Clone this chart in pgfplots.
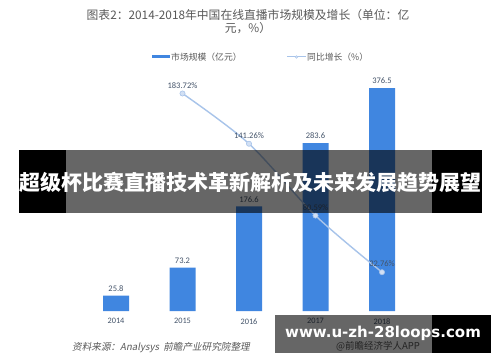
\documentclass[border=0pt]{standalone}
\usepackage{fontspec}
\setmainfont{Carlito}
\newfontfamily\cjk{Noto Sans CJK SC}
\newfontfamily\cjkit[FakeSlant=0.2]{Noto Sans CJK SC}
\newfontfamily\dv{DejaVu Sans}
\usepackage{pgfplots}
\pgfplotsset{compat=1.18}
\pgfkeys{/pgf/number format/assume math mode=true}
\definecolor{barblue}{RGB}{64,134,224}
\definecolor{lineblue}{RGB}{168,196,234}
\definecolor{markfill}{RGB}{210,224,244}
\definecolor{lbl}{RGB}{68,84,106}
\definecolor{ttl}{RGB}{89,89,89}
\begin{document}
\begin{tikzpicture}[x=1pt,y=1pt]
\path[use as bounding box,fill=white] (0,0) rectangle (500,362);
% title
\node[font=\cjk\fontsize{11.8}{14}\selectfont,text=ttl] at (248,347) {图表2：2014-2018年中国在线直播市场规模及增长（单位：亿};
\node[font=\cjk\fontsize{11.8}{14}\selectfont,text=ttl] at (248,334) {元，\%）};
% legend
\fill[barblue] (152,303.5) rectangle (170,306.5);
\node[font=\cjk\fontsize{8.8}{10}\selectfont,text=ttl,anchor=west,inner sep=0] at (171,305) {市场规模（亿元）};
\draw[lineblue,line width=1pt] (287,305) -- (306,305);
\fill[markfill,draw=lineblue] (296.5,305) circle (1.3);
\node[font=\cjk\fontsize{8.8}{10}\selectfont,text=ttl,anchor=west,inner sep=0] at (307,305) {同比增长（\%）};
% bars
\begin{axis}[at={(116pt,51pt)},anchor=origin,scale only axis,
  width=332.5pt,height=236.8pt,
  xmin=-0.5,xmax=4.5,ymin=0,ymax=400,
  axis line style={draw=none},
  ytick=\empty,
  xtick={0,1,2,3,4},
  xticklabels={2014,2015,2016,2017,2018},
  major tick length=0pt,
  xticklabel style={font=\fontsize{8.3}{10}\selectfont,text=lbl,yshift=-4pt},
  clip=false]
\addplot[ybar,bar width=26pt,fill=barblue,draw=none,
  nodes near coords={\pgfmathprintnumber[fixed,precision=1,assume math mode=true]{\pgfplotspointmeta}},
  nodes near coords style={font=\fontsize{8.5}{10}\selectfont,text=lbl,inner sep=2pt,yshift=2pt}]
 coordinates {(0,25.8) (1,73.2) (2,176.6) (3,283.6) (4,376.5)};
\end{axis}
\begin{axis}[at={(116pt,51pt)},anchor=origin,scale only axis,
  width=332.5pt,height=236.8pt,
  xmin=-0.5,xmax=4.5,ymin=0,ymax=200,
  hide axis,clip=false]
\addplot[smooth,lineblue,line width=1.4pt,mark=*,
  mark options={fill=markfill,draw=lineblue,line width=0.6pt},mark size=2.6pt,
  nodes near coords={\pgfmathprintnumber[fixed,precision=2,fixed zerofill,assume math mode=true]{\pgfplotspointmeta}\%},
  nodes near coords style={font=\fontsize{8.5}{10}\selectfont,text=lbl,inner sep=2pt,yshift=3pt}]
 coordinates {(1,183.72) (2,141.26) (3,80.59) (4,32.76)};
\end{axis}
% source
\node[font=\cjkit\fontsize{9.6}{11}\selectfont,text=ttl,anchor=west,inner sep=0] at (72,14) {资料来源：Analysys\ \ 前瞻产业研究院整理};
\node[font=\cjk\fontsize{9.5}{11}\selectfont,text=ttl,anchor=west,inner sep=0] at (336,16) {@前瞻经济学人APP};
% banner overlay
\fill[black] (19,149) rectangle (66,212);
\fill[black] (432,149) rectangle (482,212);
\fill[black,opacity=0.6] (66,149) rectangle (432,212);
\node[font=\cjk\bfseries\fontsize{21}{24}\selectfont,text=white] at (250,180) {超级杯比赛直播技术革新解析及未来发展趋势展望};
% bottom watermark
\fill[black,opacity=0.6] (275,9) rectangle (432,47);
\fill[black] (432,9) rectangle (491,47);
\node[font=\dv\bfseries\fontsize{15}{17}\selectfont,text=white,anchor=west,inner sep=0] at (285,29) {www.u-zh-28loops.com};
\end{tikzpicture}
\end{document}
